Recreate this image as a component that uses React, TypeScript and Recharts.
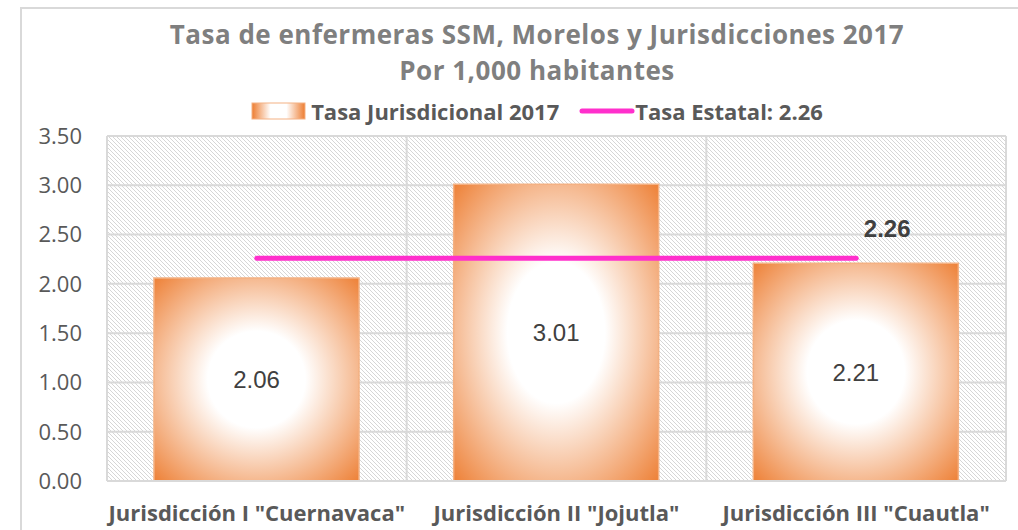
import React from 'react';
import { ComposedChart, Bar, Line, XAxis, YAxis, CartesianGrid, LabelList } from 'recharts';

const categories = ['Jurisdicción I "Cuernavaca"', 'Jurisdicción II "Jojutla"', 'Jurisdicción III "Cuautla"'];
const tasaJurisdiccional = [2.06, 3.01, 2.21];
const tasaEstatal = [2.26, 2.26, 2.26];
const yTicks = [0, 0.5, 1, 1.5, 2, 2.5, 3, 3.5];
const edgeTicks = [0, 1, 2, 3];

const titleLine1 = 'Tasa de enfermeras SSM, Morelos y Jurisdicciones 2017';
const titleLine2 = 'Por 1,000 habitantes';
const legendBar = 'Tasa Jurisdicional 2017';
const legendLine = 'Tasa Estatal: 2.26';

const data = categories.map((c, i) => ({
  name: c,
  jur: tasaJurisdiccional[i],
  est: tasaEstatal[i],
}));

const FONT = '"Open Sans", "Liberation Sans", sans-serif';
const ARIAL = '"Liberation Sans", Arial, sans-serif';

const LineLabel = (props: any) => {
  const { x, y, index, value } = props;
  if (index !== data.length - 1) return null;
  return (
    <text x={x + 31} y={y - 21} textAnchor="middle" fontFamily={ARIAL} fontWeight="bold" fontSize={24} fill="#404040">
      {Number(value).toFixed(2)}
    </text>
  );
};

export default function App() {
  return (
    <div style={{ position: 'absolute', left: 0, top: 0, width: 1018, height: 530, background: '#fff', overflow: 'hidden' }}>
      <div style={{ position: 'absolute', left: 20, top: 7, width: 1100, height: 600, border: '2px solid #D9D9D9', boxSizing: 'border-box' }} />
      <div style={{ position: 'absolute', left: 0, width: 1074, top: 16, textAlign: 'center', fontFamily: FONT, fontWeight: 700, fontSize: 26, letterSpacing: 0.5, color: '#7F7F7F', lineHeight: '36px' }}>
        <div>{titleLine1}</div>
        <div>{titleLine2}</div>
      </div>
      <div style={{ position: 'absolute', left: 0, width: 1074, top: 97, display: 'flex', justifyContent: 'center', alignItems: 'center', fontFamily: FONT, fontWeight: 700, fontSize: 22, color: '#595959', lineHeight: '28px' }}>
        <svg width={55} height={18} style={{ marginRight: 5 }}>
          <defs>
            <linearGradient id="legBar" x1="0" y1="0" x2="1" y2="0">
              <stop offset="0" stopColor="#ED7D31" />
              <stop offset="0.35" stopColor="#FFFFFF" />
              <stop offset="0.65" stopColor="#FFFFFF" />
              <stop offset="1" stopColor="#ED7D31" />
            </linearGradient>
          </defs>
          <rect x={1} y={1} width={53} height={16} fill="url(#legBar)" stroke="#F4B183" strokeWidth={1} />
        </svg>
        <span>{legendBar}</span>
        <svg width={56} height={18} style={{ marginLeft: 20 }}>
          <line x1={3} y1={9} x2={53} y2={9} stroke="#FF2FCC" strokeWidth={5} strokeLinecap="round" />
        </svg>
        <span>{legendLine}</span>
      </div>
      <div style={{ position: 'absolute', left: 0, top: 0 }}>
        <ComposedChart width={1018} height={530} data={data} margin={{ top: 136, right: 12, left: 0, bottom: 0 }}>
          <defs>
            <pattern id="hatch" width={4} height={4} patternUnits="userSpaceOnUse">
              <rect width={4} height={4} fill="#FFFFFF" />
              <path d="M-1,-1 L5,5 M-1,3 L1,5 M3,-1 L5,1" stroke="#D6D6D6" strokeWidth={1} />
            </pattern>
            <radialGradient id="barGrad" cx="0.5" cy="0.5" r="0.72">
              <stop offset="0" stopColor="#FFFFFF" />
              <stop offset="0.33" stopColor="#FFFFFF" />
              <stop offset="1" stopColor="#ED7D31" />
            </radialGradient>
          </defs>
          <CartesianGrid
            fill="url(#hatch)"
            fillOpacity={1}
            stroke="#D9D9D9"
            strokeWidth={2}
            horizontalValues={yTicks}
            verticalCoordinatesGenerator={({ offset }: any) => edgeTicks.map((t) => offset.left + (offset.width * t) / categories.length)}
          />
          <XAxis
            xAxisId="edge"
            type="number"
            domain={[0, categories.length]}
            ticks={edgeTicks}
            allowDataOverflow
            height={0}
            tick={false}
            tickSize={8}
            axisLine={false}
            tickLine={{ stroke: '#D9D9D9', strokeWidth: 2 }}
          />
          <XAxis
            dataKey="name"
            height={49}
            axisLine={{ stroke: '#D9D9D9', strokeWidth: 2 }}
            tickLine={false}
            tickSize={0}
            tickMargin={24}
            interval={0}
            tick={{ fontFamily: FONT, fontWeight: 700, fontSize: 22, fill: '#595959' }}
          />
          <YAxis
            width={107}
            domain={[0, 3.5]}
            ticks={yTicks}
            interval={0}
            axisLine={false}
            tickLine={false}
            tickSize={0}
            tickMargin={25}
            tickFormatter={(v: number) => v.toFixed(2)}
            tick={{ fontFamily: FONT, fontSize: 22, fill: '#595959' }}
          />
          <Bar dataKey="jur" barSize={205} fill="url(#barGrad)" stroke="#F4B183" strokeWidth={1.5} isAnimationActive={false}>
            <LabelList dataKey="jur" position="center" formatter={(v: any) => Number(v).toFixed(2)} style={{ fontFamily: ARIAL, fontSize: 24, fill: '#404040' }} />
          </Bar>
          <Line dataKey="est" stroke="#FF2FCC" strokeWidth={5} strokeLinecap="round" dot={false} activeDot={false} isAnimationActive={false}>
            <LabelList dataKey="est" content={LineLabel} />
          </Line>
        </ComposedChart>
      </div>
    </div>
  );
}
